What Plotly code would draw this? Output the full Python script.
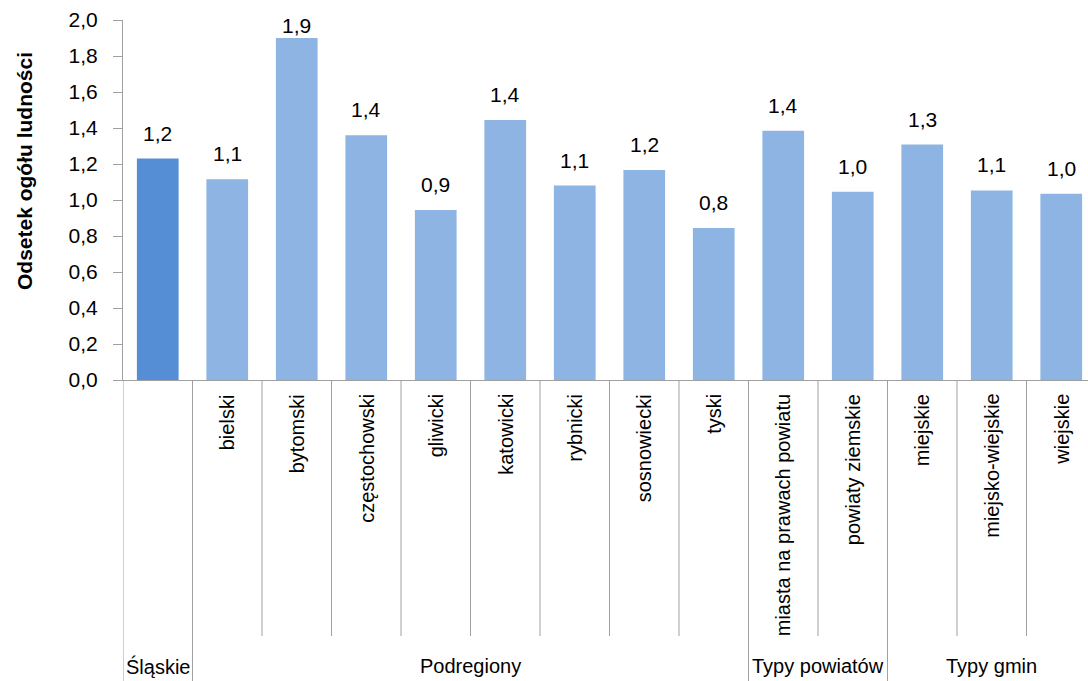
import plotly.graph_objects as go

categories = ["Śląskie", "bielski", "bytomski", "częstochowski", "gliwicki", "katowicki",
              "rybnicki", "sosnowiecki", "tyski", "miasta na prawach powiatu",
              "powiaty ziemskie", "miejskie", "miejsko-wiejskie", "wiejskie"]
values = [1.23, 1.115, 1.90, 1.36, 0.945, 1.445, 1.08, 1.167, 0.845, 1.385,
          1.046, 1.308, 1.053, 1.035]
groups = ["Śląskie", "Podregiony", "Typy powiatów", "Typy gmin"]
group_sizes = [1, 8, 2, 3]
y_ticks = [0.0, 0.2, 0.4, 0.6, 0.8, 1.0, 1.2, 1.4, 1.6, 1.8, 2.0]
y_max = 2.0

FONT = "Liberation Sans, Arial, sans-serif"
FS_NUM = 21
FS_TXT = 20
dark = "#558ED5"
light = "#8EB4E3"
gray = "#A0A0A0"

colors = [dark] + [light] * (len(categories) - 1)
idx = list(range(len(categories)))

fig = go.Figure(go.Bar(x=idx, y=values, marker=dict(color=colors, line=dict(width=0)),
                       width=0.6, hoverinfo="skip"))

ann = []
for i, v in zip(idx, values):
    label = f"{v:.1f}".replace(".", ",")
    if v > y_max - 0.2:
        # label kept inside the chart area, at its top
        ann.append(dict(x=i, y=y_max, xref="x", yref="y", text=label,
                        showarrow=False, yanchor="top", yshift=8,
                        font=dict(family=FONT, size=FS_NUM, color="black")))
    else:
        ann.append(dict(x=i, y=v, xref="x", yref="y", text=label,
                        showarrow=False, yanchor="bottom", yshift=12,
                        font=dict(family=FONT, size=FS_NUM, color="black")))

# category labels (rotated)
for i, c in zip(idx, categories):
    if i == 0:
        continue
    ann.append(dict(x=i, y=0, xref="x", yref="paper", text=c, textangle=-90,
                    showarrow=False, yanchor="top", xanchor="center", yshift=-12,
                    font=dict(family=FONT, size=FS_TXT, color="black")))

plot_h = 360.0
inner_bottom = -(636 - 380) / plot_h
outer_bottom = -(690 - 380) / plot_h

shapes = []
start = 0
for g, n in zip(groups, group_sizes):
    center = start + (n - 1) / 2
    ann.append(dict(x=center, y=outer_bottom, xref="x", yref="paper", text=g,
                    showarrow=False, yanchor="middle", yshift=24,
                    font=dict(family=FONT, size=FS_TXT, color="black")))
    shapes.append(dict(type="line", xref="x", yref="paper", x0=start - 0.5, x1=start - 0.5,
                       y0=0, y1=outer_bottom, line=dict(color=gray, width=1)))
    for k in range(1, n):
        b = start + k - 0.5
        shapes.append(dict(type="line", xref="x", yref="paper", x0=b, x1=b,
                           y0=0, y1=inner_bottom, line=dict(color=gray, width=1)))
    start += n

ann.append(dict(x=0, y=(380 - 171) / plot_h, xref="paper", yref="paper",
                text="<b>Odsetek ogółu ludności</b>", textangle=-90, showarrow=False,
                xanchor="center", yanchor="middle", xshift=-98,
                font=dict(family=FONT, size=FS_TXT + 1, color="black")))

fig.update_layout(
    width=1088, height=681,
    margin=dict(l=123, r=0, t=20, b=301, autoexpand=False),
    paper_bgcolor="white", plot_bgcolor="white",
    separators=", ",
    showlegend=False,
    bargap=0.4,
    annotations=ann,
    shapes=shapes,
    font=dict(family=FONT, size=FS_TXT, color="black"),
)
fig.update_xaxes(range=[-0.5, 13.385], showticklabels=False, showgrid=False,
                 zeroline=False, showline=True, linecolor=gray, linewidth=1, ticks="")
fig.update_yaxes(range=[0, y_max], tickvals=y_ticks, tickformat=".1f", showgrid=False,
                 zeroline=False, showline=True, linecolor=gray, linewidth=1,
                 ticks="outside", ticklen=9, tickcolor=gray, ticklabelstandoff=11,
                 tickfont=dict(family=FONT, size=FS_NUM, color="black"))

fig.write_html("out.html", config={"displayModeBar": False},
               post_script="document.body.style.margin='0';")
